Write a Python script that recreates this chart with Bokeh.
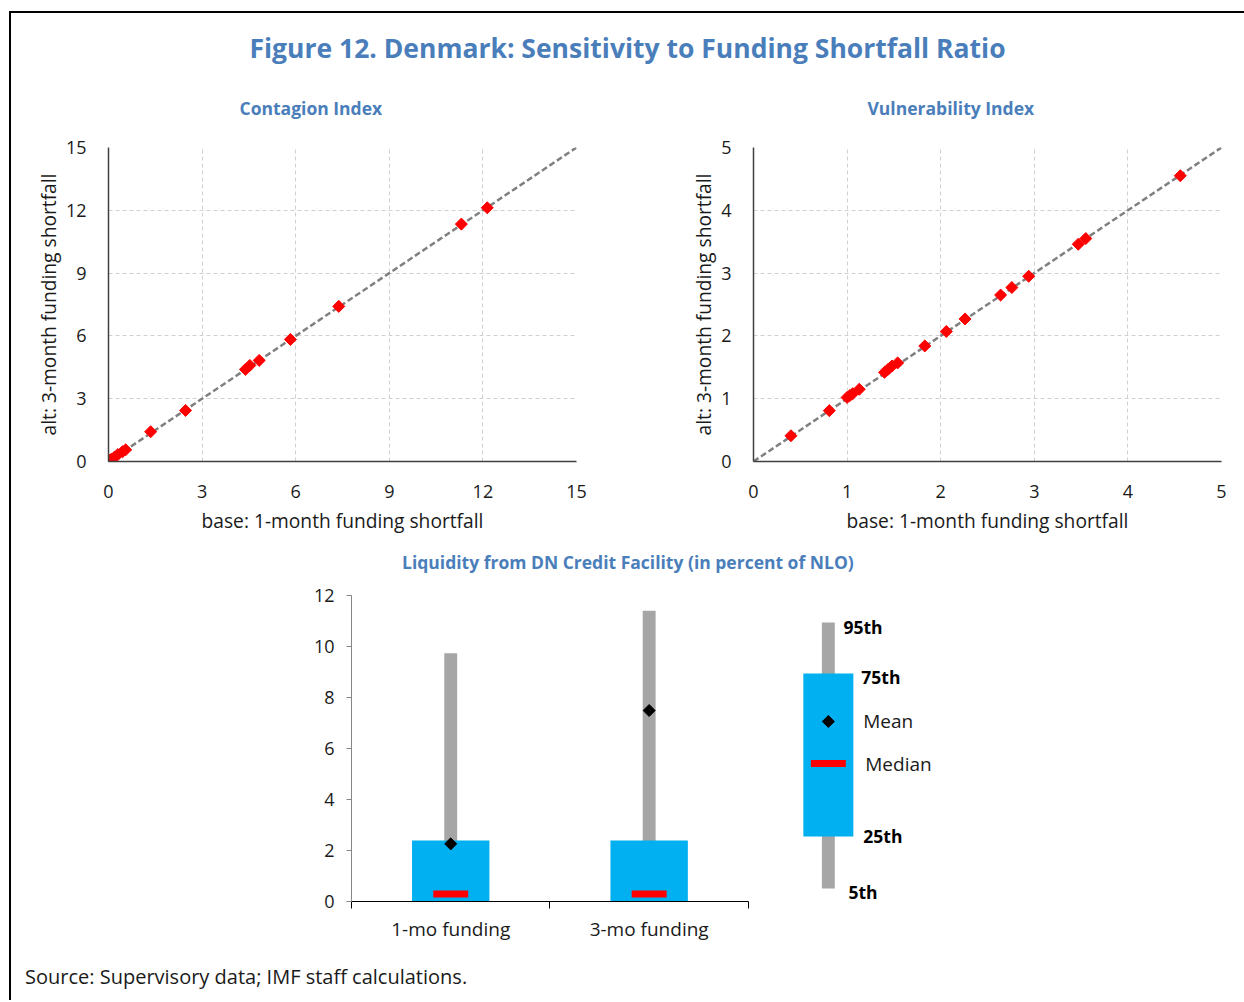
from bokeh.plotting import figure
from bokeh.layouts import column, row
from bokeh.models import Div, FixedTicker, Range1d, Title, Spacer
from bokeh.embed import file_html
from bokeh.resources import INLINE
from bokeh.core.properties import value
import numpy as np

# ---- data -------------------------------------------------------------
contagion_base = [0.00, 0.02, 0.05, 0.10, 0.20, 0.30, 0.45, 0.55, 1.35, 2.47,
                  4.39, 4.53, 4.83, 5.83, 7.38, 11.31, 12.14]
contagion_alt = [0.00, 0.03, 0.06, 0.12, 0.22, 0.33, 0.47, 0.56, 1.42, 2.44,
                 4.40, 4.59, 4.83, 5.83, 7.41, 11.34, 12.12]
contagion_ticks = [0, 3, 6, 9, 12, 15]

vuln_base = [0.40, 0.81, 1.00, 1.03, 1.06, 1.13, 1.40, 1.44, 1.48, 1.54,
             1.83, 2.06, 2.26, 2.64, 2.76, 2.94, 3.47, 3.55, 4.56]
vuln_alt = [0.41, 0.81, 1.02, 1.05, 1.08, 1.15, 1.42, 1.47, 1.52, 1.57,
            1.84, 2.07, 2.27, 2.65, 2.77, 2.95, 3.46, 3.55, 4.55]
vuln_ticks = [0, 1, 2, 3, 4, 5]

categories = ["1-mo funding", "3-mo funding"]
p5 = [0.0, 0.0]
p25 = [0.0, 0.0]
median = [0.29, 0.29]
mean = [2.26, 7.49]
p75 = [2.39, 2.39]
p95 = [9.74, 11.40]
liq_ticks = [0, 2, 4, 6, 8, 10, 12]

# schematic distribution shown in the key
key_labels = ["95th", "75th", "Mean", "Median", "25th", "5th"]
key_values = {"5th": 0.51, "25th": 2.55, "Median": 5.41, "Mean": 7.06,
              "75th": 8.94, "95th": 10.94}

# ---- styling ----------------------------------------------------------
FONT = "Open Sans"
BLUE = "#4A7EBB"
TXT = "#1A1A1A"


def scatter_panel(title, base, alt, ticks, width, mb_left, mb_right, title_offset):
    lim = ticks[-1]
    p = figure(width=width, height=480, x_range=Range1d(0, lim), y_range=Range1d(0, lim),
               min_border_left=mb_left, min_border_right=mb_right,
               min_border_top=82, min_border_bottom=84,
               output_backend="svg", toolbar_location=None, margin=0)
    p.title = Title(text=title, align="left", offset=title_offset, standoff=55,
                    text_font=FONT, text_font_size="17.5px", text_font_style="bold",
                    text_color=BLUE)
    p.outline_line_color = None
    p.xaxis.ticker = FixedTicker(ticks=ticks)
    p.yaxis.ticker = FixedTicker(ticks=ticks)
    for ax in (p.xaxis[0], p.yaxis[0]):
        ax.axis_line_color = "#404040"
        ax.axis_line_width = 1.5
        ax.major_tick_line_color = None
        ax.minor_tick_line_color = None
        ax.major_label_text_font = FONT
        ax.major_label_text_font_size = "18px"
        ax.major_label_text_color = TXT
        ax.axis_label_text_font = FONT
        ax.axis_label_text_font_size = "19.2px"
        ax.axis_label_text_font_style = "normal"
        ax.axis_label_text_color = TXT
    p.xaxis.major_label_standoff = 17
    p.yaxis.major_label_standoff = 16
    p.xaxis.axis_label = "base: 1-month funding shortfall"
    p.yaxis.axis_label = "alt: 3-month funding shortfall"
    p.xaxis.axis_label_standoff = 6
    p.yaxis.axis_label_standoff = 1
    p.grid.grid_line_color = "#D0D0D0"
    p.grid.grid_line_dash = "4 3"
    p.grid.grid_line_width = 1
    p.line([0, lim], [0, lim], line_color="#808080", line_width=2.5, line_dash="6 3")
    p.scatter(base, alt, marker="square", size=8.5, angle=np.pi / 4,
              fill_color="#FF0000", line_color="#FF0000")
    return p


p1 = scatter_panel("Contagion Index", contagion_base, contagion_alt, contagion_ticks,
                   629, 97, 64, 131)
p2 = scatter_panel("Vulnerability Index", vuln_base, vuln_alt, vuln_ticks,
                   604, 113, 23, 114)

# ---- liquidity box chart ----------------------------------------------
xc = [i + 0.5 for i in range(len(categories))]
p3 = figure(width=1233, height=370, x_range=Range1d(0, 3.2), y_range=Range1d(0, 12),
            min_border_left=340, min_border_right=258, min_border_top=15, min_border_bottom=49,
            output_backend="svg", toolbar_location=None, margin=0)
p3.outline_line_color = None
p3.grid.visible = False

xa = p3.xaxis[0]
xa.bounds = (0, len(categories))
xa.ticker = FixedTicker(ticks=xc, minor_ticks=list(range(len(categories) + 1)))
xa.major_label_overrides = {c: lab for c, lab in zip(xc, categories)}
xa.axis_line_color = "#000000"
xa.major_tick_line_color = None
xa.minor_tick_line_color = "#000000"
xa.minor_tick_out = 7
xa.minor_tick_in = 0
xa.major_label_standoff = 7
xa.major_label_text_font = FONT
xa.major_label_text_font_size = "19px"
xa.major_label_text_color = TXT

ya = p3.yaxis[0]
ya.ticker = FixedTicker(ticks=liq_ticks)
ya.axis_line_color = "#868686"
ya.major_tick_line_color = "#868686"
ya.major_tick_out = 5
ya.major_tick_in = 0
ya.minor_tick_line_color = None
ya.major_label_standoff = 12
ya.major_label_text_font = FONT
ya.major_label_text_font_size = "18px"
ya.major_label_text_color = TXT

p3.vbar(x=xc, bottom=p5, top=p95, width=0.065, fill_color="#A6A6A6", line_color=None)
p3.vbar(x=xc, bottom=p25, top=p75, width=0.39, fill_color="#00B0F0", line_color=None)
p3.rect(x=xc, y=median, width=0.176, height=7, height_units="screen",
        fill_color="#FF0000", line_color=None)
p3.scatter(xc, mean, marker="square", size=8.5, angle=np.pi / 4,
           fill_color="#000000", line_color="#000000")

# key
kx = 2.403
p3.vbar(x=[kx], bottom=[key_values["5th"]], top=[key_values["95th"]], width=0.065,
        fill_color="#A6A6A6", line_color=None)
p3.vbar(x=[kx], bottom=[key_values["25th"]], top=[key_values["75th"]], width=0.252,
        fill_color="#00B0F0", line_color=None)
p3.rect(x=[kx], y=[key_values["Median"]], width=0.176, height=7, height_units="screen",
        fill_color="#FF0000", line_color=None)
p3.scatter([kx], [key_values["Mean"]], marker="square", size=8.5, angle=np.pi / 4,
           fill_color="#000000", line_color="#000000")
key_x = {"95th": 2.479, "75th": 2.569, "Mean": 2.579, "Median": 2.589, "25th": 2.579, "5th": 2.504}
key_dy = {"95th": 4, "75th": 3, "25th": 0, "5th": 4}
bold = [k for k in key_labels if k.endswith("th")]
plain = [k for k in key_labels if not k.endswith("th")]
p3.text(x=[key_x[k] for k in bold], y=[key_values[k] for k in bold], text=bold,
        y_offset=[key_dy[k] for k in bold],
        text_font=value(FONT), text_font_size="17.5px", text_font_style="bold",
        text_color="#000000", text_baseline="middle", text_align="left")
p3.text(x=[key_x[k] for k in plain], y=[key_values[k] for k in plain], text=plain,
        text_font=value(FONT), text_font_size="19px", text_color=TXT,
        text_baseline="middle", text_align="left")

# ---- page -------------------------------------------------------------
head = Div(text="Figure 12. Denmark: Sensitivity to Funding Shortfall Ratio",
           width=1233, height=52, margin=0,
           styles={"font-family": FONT, "font-size": "26.5px", "font-weight": "bold",
                   "color": BLUE, "text-align": "center", "line-height": "70px",
                   "white-space": "nowrap"})
liq_head = Div(text="Liquidity from DN Credit Facility (in percent of NLO)",
               width=600, height=35, margin=0,
               styles={"font-family": FONT, "font-size": "17.5px", "font-weight": "bold",
                       "color": BLUE, "line-height": "35px", "white-space": "nowrap"})
src = Div(text="Source: Supervisory data; IMF staff calculations.",
          width=1233, height=50, margin=0,
          styles={"font-family": FONT, "font-size": "20px", "color": TXT,
                  "padding-left": "14px", "line-height": "54px"})

page = column(head, row(p1, p2, margin=0),
              row(Spacer(width=391, height=35, margin=0), liq_head, margin=0),
              p3, src, margin=0,
              styles={"border-left": "2px solid #000000", "border-top": "2px solid #000000",
                      "margin-left": "9px", "margin-top": "11px"})

open("out.html", "w").write(file_html(page, INLINE))
